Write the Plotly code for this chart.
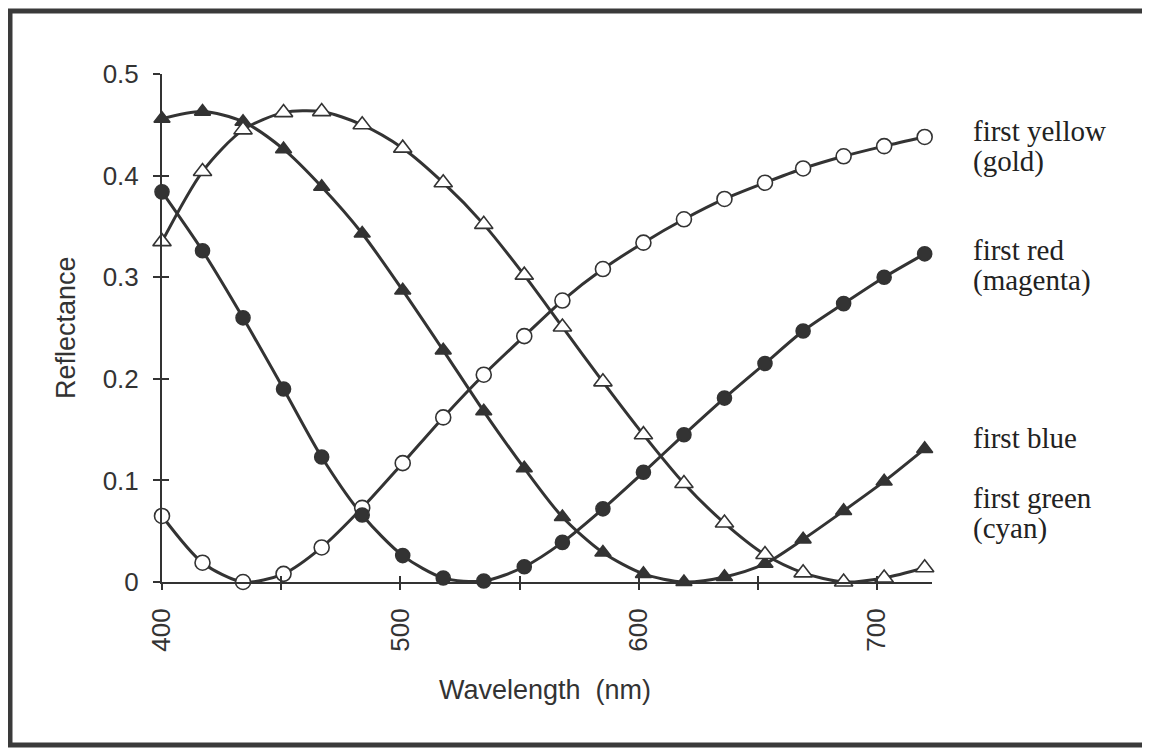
import plotly.graph_objects as go

W, H = 1150, 749
OFF = 8  # the page places the figure 8px from the window's top-left corner

wavelength = [400, 417, 434, 451, 467, 484, 501, 518, 535, 552,
              568, 585, 602, 619, 636, 653, 669, 686, 703, 720]

first_yellow = [0.065, 0.019, 0.000, 0.008, 0.034, 0.073, 0.117, 0.162, 0.204, 0.242,
                0.277, 0.308, 0.334, 0.357, 0.377, 0.393, 0.407, 0.419, 0.429, 0.438]
first_red = [0.384, 0.326, 0.260, 0.190, 0.123, 0.066, 0.026, 0.004, 0.001, 0.015,
             0.039, 0.072, 0.108, 0.145, 0.181, 0.215, 0.247, 0.274, 0.300, 0.323]
first_blue = [0.456, 0.463, 0.453, 0.426, 0.389, 0.343, 0.287, 0.228, 0.168, 0.112,
              0.064, 0.029, 0.008, 0.000, 0.005, 0.018, 0.042, 0.070, 0.099, 0.131]
first_green = [0.335, 0.404, 0.445, 0.462, 0.463, 0.450, 0.427, 0.393, 0.352, 0.302,
               0.251, 0.197, 0.145, 0.097, 0.058, 0.027, 0.009, 0.000, 0.004, 0.014]

# series labels, one list of text lines per series
label_lines = [["first yellow", "(gold)"],
               ["first red", "(magenta)"],
               ["first blue"],
               ["first green", "(cyan)"]]

x_tickvals = [400, 450, 500, 550, 600, 650, 700]
x_ticktext = ["400", "", "500", "", "600", "", "700"]
y_tickvals = [0, 0.1, 0.2, 0.3, 0.4, 0.5]
y_ticktext = ["0", "0.1", "0.2", "0.3", "0.4", "0.5"]

INK = "#333333"


def px(x):
    return (x - OFF) / W


def py(y):
    return 1 - (y - OFF) / H


# plot area geometry (window pixels)
x_left, x_right = 162, 932
y_bottom, y_top = 582, 74
px_per_nm = (877 - 162) / 300.0
x_range = [400, 400 + (x_right - x_left) / px_per_nm]
y_range = [0, 0.5]

fig = go.Figure()

styles = [
    (first_yellow, "circle", "white", 15),
    (first_red, "circle", INK, 14),
    (first_blue, "triangle-up", INK, 14),
    (first_green, "triangle-up", "white", 16),
]
for vals, sym, fill, size in styles:
    fig.add_trace(go.Scatter(
        x=wavelength, y=vals, mode="lines",
        line=dict(color=INK, width=3, shape="spline", smoothing=0.8),
        cliponaxis=False, showlegend=False, hoverinfo="skip"))
for vals, sym, fill, size in styles:
    fig.add_trace(go.Scatter(
        x=wavelength, y=vals, mode="markers",
        marker=dict(symbol=sym, size=size, color=fill,
                    line=dict(color=INK, width=1.6)),
        cliponaxis=False, showlegend=False))

# overlay axes for inward half of crossing ticks
fig.add_trace(go.Scatter(x=[], y=[], xaxis="x2", yaxis="y2",
                         showlegend=False, hoverinfo="skip"))

tickfont = dict(family="Liberation Sans, Arial, sans-serif", size=26, color=INK)

fig.update_layout(
    template="none",
    width=W, height=H,
    margin=dict(l=0, r=0, t=0, b=0, pad=0, autoexpand=False),
    paper_bgcolor="white", plot_bgcolor="white",
    xaxis=dict(domain=[px(x_left), px(x_right)], range=x_range,
               automargin=False,
               showline=True, linecolor=INK, linewidth=2,
               showgrid=False, zeroline=False,
               tickmode="array", tickvals=x_tickvals, ticktext=x_ticktext,
               ticks="outside", ticklen=6, tickwidth=1.5, tickcolor=INK,
               tickangle=-90, tickfont=tickfont, ticklabelstandoff=8,
               anchor="y"),
    yaxis=dict(domain=[py(y_bottom), py(y_top)], range=y_range,
               automargin=False,
               showline=True, linecolor=INK, linewidth=2,
               showgrid=False, zeroline=False,
               tickmode="array", tickvals=y_tickvals, ticktext=y_ticktext,
               ticks="outside", ticklen=7, tickwidth=1.5, tickcolor=INK,
               tickfont=tickfont, ticklabelstandoff=9,
               anchor="x"),
    xaxis2=dict(domain=[px(x_left), px(x_right)], range=x_range,
                automargin=False,
                overlaying="x", anchor="y2", side="bottom",
                showline=False, showgrid=False, zeroline=False,
                tickmode="array", tickvals=x_tickvals,
                ticks="inside", ticklen=6, tickwidth=1.5, tickcolor=INK,
                showticklabels=False),
    yaxis2=dict(domain=[py(y_bottom), py(y_top)], range=y_range,
                automargin=False,
                overlaying="y", anchor="x2", side="left",
                showline=False, showgrid=False, zeroline=False,
                tickmode="array", tickvals=y_tickvals,
                ticks="inside", ticklen=7, tickwidth=1.5, tickcolor=INK,
                showticklabels=False),
)

# series labels (each text line placed separately for tight spacing)
label_rows = [[131, 161], [250, 281], [438], [498, 528]]
for lines, rows in zip(label_lines, label_rows):
    for txt, yy in zip(lines, rows):
        fig.add_annotation(text=txt, xref="paper", yref="paper",
                           x=px(971), y=py(yy), xanchor="left", yanchor="middle",
                           align="left", showarrow=False,
                           font=dict(family="Liberation Serif, Times New Roman, serif",
                                     size=29, color="#222222"))

# axis titles
fig.add_annotation(text="Reflectance", xref="paper", yref="paper",
                   x=px(66), y=py(328), textangle=-90, showarrow=False,
                   xanchor="center", yanchor="middle",
                   font=dict(family="Liberation Sans, Arial, sans-serif",
                             size=27, color=INK))
fig.add_annotation(text="Wavelength&nbsp;&nbsp;(nm)", xref="paper", yref="paper",
                   x=px(545), y=py(690), showarrow=False,
                   xanchor="center", yanchor="middle",
                   font=dict(family="Liberation Sans, Arial, sans-serif",
                             size=27, color=INK))

# outer frame
fig.add_shape(type="rect", xref="paper", yref="paper",
              x0=px(10), y0=py(11), x1=px(1145), y1=py(745),
              line=dict(color="#3a3a3a", width=5), fillcolor="rgba(0,0,0,0)")

fig.write_html("out.html")
